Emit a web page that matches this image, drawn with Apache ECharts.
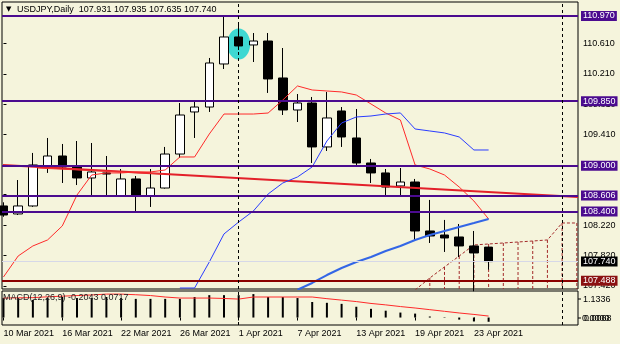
<!DOCTYPE html>
<html><head><meta charset="utf-8">
<script src="https://cdn.jsdelivr.net/npm/echarts@6/dist/echarts.min.js"></script>
<style>html,body{margin:0;padding:0;background:#f5f4dc;}#c{width:620px;height:344px;}</style>
</head><body><div id="c"></div>
<script>
// ---- data ----
const dates = ['10 Mar','11 Mar','12 Mar','15 Mar','16 Mar','17 Mar','18 Mar','19 Mar','22 Mar','23 Mar','24 Mar','25 Mar','26 Mar','29 Mar','30 Mar','31 Mar','1 Apr','2 Apr','5 Apr','6 Apr','7 Apr','8 Apr','9 Apr','12 Apr','13 Apr','14 Apr','15 Apr','16 Apr','19 Apr','20 Apr','21 Apr','22 Apr','23 Apr','26 Apr','27 Apr','28 Apr','29 Apr','30 Apr','3 May','4 May'];
const open  = [108.472,108.367,108.472,108.998,109.129,108.984,108.840,108.906,108.603,108.827,108.603,108.708,109.155,109.708,109.773,110.339,110.694,110.589,110.641,110.155,109.734,109.826,109.248,109.721,109.366,109.037,108.906,108.735,108.787,108.143,108.090,108.064,107.946,107.931];
const close = [108.353,108.472,109.011,109.129,108.984,108.840,108.919,108.892,108.827,108.603,108.708,109.155,109.668,109.773,110.352,110.694,110.576,110.641,110.142,109.734,109.826,109.248,109.629,109.379,109.037,108.906,108.721,108.787,108.143,108.077,108.051,107.946,107.854,107.740];
const low   = [108.330,108.353,108.460,108.906,108.774,108.747,108.603,108.603,108.603,108.406,108.459,108.700,109.103,109.366,109.708,110.273,110.523,110.365,109.958,109.668,109.576,109.037,109.195,109.248,109.011,108.774,108.603,108.603,108.011,107.985,107.867,107.801,107.350,107.635];
const high  = [108.520,108.813,109.169,109.366,109.287,109.326,109.300,109.129,108.958,108.866,108.958,109.248,109.826,109.852,110.418,110.957,110.865,110.746,110.746,110.549,109.944,109.905,109.971,109.773,109.747,109.090,108.958,108.971,108.827,108.551,108.288,108.235,108.143,107.935];
const tenkan = [107.538,107.814,107.946,108.025,108.209,108.616,108.879,108.906,108.906,108.919,108.919,108.945,109.116,109.116,109.418,109.681,109.681,109.681,109.694,109.865,110.050,109.997,109.984,109.971,109.931,109.813,109.694,109.602,109.011,108.958,108.879,108.721,108.537,108.301];
const kijunStart = 12;
const kijun = [107.393,107.393,107.735,108.104,108.261,108.406,108.629,108.774,108.853,108.985,109.326,109.563,109.642,109.655,109.681,109.695,109.484,109.458,109.432,109.379,109.208,109.208];
const maStart = 20;
const maBlue = [107.370,107.459,107.564,107.656,107.735,107.801,107.880,107.946,108.025,108.090,108.143,108.196,108.248,108.301];
const spanStart = 28;
const spanA = [107.367,107.525,107.670,107.814,107.959,107.972,107.985,107.998,108.011,108.025,108.248,108.248];
const spanB = [107.300,107.300,107.280,107.250,107.250,107.250,107.220,107.200,107.200,107.200,107.200,107.200];
const trendIdx = [-0.03, 39.08];
const trendVal = [109.011, 108.590];
const trend2Idx = [2.3, 10.9];
const trend2Val = [108.971, 108.892];
const macdHist = [0.94,0.94,0.85,0.94,0.99,0.94,0.94,0.99,0.94,0.90,0.90,0.90,0.90,0.99,1.08,1.08,1.08,1.13,0.99,0.99,0.94,0.75,0.71,0.66,0.52,0.42,0.33,0.24,0.19,0.05,0.02,-0.10,-0.19,-0.2043];
const macdSignal = [0.94,0.95,0.96,1.00,1.03,1.06,1.09,1.13,1.13,1.10,1.06,0.99,0.94,0.94,0.94,0.92,0.89,0.99,0.99,0.99,0.99,0.99,0.91,0.84,0.77,0.68,0.61,0.53,0.46,0.38,0.30,0.22,0.15,0.0717];
const levels = [110.970, 109.850, 109.000, 108.606, 108.400];
const supportLevel = 107.488;
const bidPrice = 107.740;
const priceTicks = [110.610,110.210,109.810,109.410,109.010,108.620,108.220,107.820,107.420];
const dateTickIdx = [0,4,8,12,16,20,24,28,32];
const dateTickLabels = ['10 Mar 2021','16 Mar 2021','22 Mar 2021','26 Mar 2021','1 Apr 2021','7 Apr 2021','13 Apr 2021','19 Apr 2021','23 Apr 2021'];
const separatorIdx = [16, 38];
const highlightIdx = 16;
const highlightVal = 110.602;
const titleText = 'USDJPY,Daily  107.931 107.935 107.635 107.740';
const macdText = 'MACD(12,26,9) -0.2043 0.0717';
const macdLabels = ['1.1336', '0.0068'];

// ---- chart ----
const FONT = "'Liberation Sans',Arial,sans-serif";
const FS = 9;
const PURPLE = '#4b0b8f';
const xMin = -0.1, xMax = 39.08;
const chart = echarts.init(document.getElementById('c'), null, {renderer: 'canvas'});

const candleData = open.map((o, i) => [i, o, close[i], low[i], high[i]]);
const hatchData = spanA.map((a, k) => [spanStart + k, a, spanB[k]]);

function lvlItem(v, lineColor, bg, width, fmt) {
  return {
    yAxis: v,
    lineStyle: {color: lineColor, width: width, type: 'solid'},
    label: {show: true, position: 'end', distance: 3, formatter: fmt,
      backgroundColor: bg, color: '#fff', fontFamily: FONT, fontSize: FS,
      padding: [1, 2, 0, 2], lineHeight: 9}
  };
}

const option = {
  animation: false,
  backgroundColor: '#f5f4dc',
  grid: [
    {left: 2, top: 2, width: 576, height: 287, show: true, borderColor: '#000', borderWidth: 1, backgroundColor: '#f5f4dc'},
    {left: 2, top: 291, width: 576, height: 34, show: true, borderColor: '#000', borderWidth: 1, backgroundColor: '#f5f4dc'}
  ],
  xAxis: [
    {type: 'value', gridIndex: 0, min: xMin, max: xMax, axisLine: {show: false}, axisTick: {show: false}, axisLabel: {show: false}, splitLine: {show: false}},
    {type: 'value', gridIndex: 1, min: xMin, max: xMax, axisLine: {show: false}, splitLine: {show: false},
      axisTick: {show: true, customValues: dateTickIdx, length: 3, lineStyle: {color: '#000'}},
      axisLabel: {show: true, customValues: dateTickIdx, showMinLabel: true, showMaxLabel: true, hideOverlap: false,
        align: 'left', margin: 4, color: '#000', fontFamily: FONT, fontSize: FS,
        formatter: v => { const k = dateTickIdx.indexOf(Math.round(v)); return k >= 0 ? dateTickLabels[k] : ''; }}}
  ],
  yAxis: [
    {type: 'value', gridIndex: 0, position: 'right', min: 107.38, max: 111.154, scale: true, splitLine: {show: false},
      axisLine: {show: false},
      axisTick: {show: true, customValues: priceTicks, length: 3, lineStyle: {color: '#000'}},
      axisLabel: {show: true, customValues: priceTicks, showMinLabel: true, showMaxLabel: true, margin: 5, color: '#000', fontFamily: FONT, fontSize: FS, formatter: v => v.toFixed(3)}},
    {type: 'value', gridIndex: 1, position: 'right', min: -0.36, max: 1.28, splitLine: {show: false},
      axisLine: {show: false}, axisTick: {show: false}, axisLabel: {show: false}}
  ],
  graphic: [
    {type: 'text', left: 6, top: 6, z: 100, style: {text: '▼', fontSize: 7, fill: '#000', fontFamily: 'DejaVu Sans'}},
    {type: 'text', left: 17, top: 5, z: 100, style: {text: titleText, fontSize: FS, fill: '#000', fontFamily: FONT}},
    {type: 'text', left: 3, top: 293, z: 100, style: {text: macdText, fontSize: FS, fill: '#222', fontFamily: FONT}},
    {type: 'text', left: 583, top: 295, z: 100, style: {text: macdLabels[0], fontSize: FS, fill: '#000', fontFamily: FONT}},
    {type: 'text', left: 582, top: 314, z: 100, style: {text: '0.0000', fontSize: FS, fill: '#000', fontFamily: FONT}},
    {type: 'text', left: 584, top: 314, z: 100, style: {text: macdLabels[1], fontSize: FS, fill: '#000', fontFamily: FONT}},
    {type: 'line', z: 100, shape: {x1: 578, y1: 299, x2: 581, y2: 299}, style: {stroke: '#000', lineWidth: 1}},
    {type: 'line', z: 100, shape: {x1: 578, y1: 318, x2: 581, y2: 318}, style: {stroke: '#000', lineWidth: 1}}
  ],
  series: [
    {type: 'line', xAxisIndex: 0, yAxisIndex: 0, data: [], z: 1, silent: true,
      markLine: {symbol: 'none', silent: true, animation: false,
        data: [lvlItem(bidPrice, '#d6d8e8', '#000', 1, bidPrice.toFixed(3))]}},
    {type: 'line', xAxisIndex: 0, yAxisIndex: 0, data: [], z: 2, silent: true,
      markLine: {symbol: 'none', silent: true, animation: false,
        data: levels.map(v => lvlItem(v, PURPLE, PURPLE, 2, v.toFixed(3)))
          .concat([lvlItem(supportLevel, '#8b0000', '#8b1111', 2, supportLevel.toFixed(3))])}},
    {type: 'line', xAxisIndex: 0, yAxisIndex: 0, data: [], z: 2, silent: true,
      markLine: {symbol: 'none', silent: true, animation: false, label: {show: false},
        lineStyle: {color: '#000', width: 1, type: [3, 3]},
        data: separatorIdx.map(v => ({xAxis: v}))}},
    {type: 'line', xAxisIndex: 1, yAxisIndex: 1, data: [], z: 2, silent: true,
      markLine: {symbol: 'none', silent: true, animation: false, label: {show: false},
        lineStyle: {color: '#000', width: 1, type: [3, 3]},
        data: separatorIdx.map(v => ({xAxis: v}))}},
    {type: 'scatter', xAxisIndex: 0, yAxisIndex: 0, z: 2, silent: true,
      data: [[highlightIdx, highlightVal]], symbol: 'circle', symbolSize: [23, 31],
      itemStyle: {color: '#3ed8d2', opacity: 1}},
    {type: 'custom', xAxisIndex: 0, yAxisIndex: 0, z: 2, silent: true, data: hatchData,
      renderItem: function (params, api) {
        const x = api.value(0);
        const p1 = api.coord([x, api.value(1)]);
        const p2 = api.coord([x, api.value(2)]);
        const cs = params.coordSys;
        const top = cs.y, bot = cs.y + cs.height;
        const y1 = Math.max(Math.min(p1[1], p2[1]), top);
        const y2 = Math.min(Math.max(p1[1], p2[1]), bot);
        if (y1 >= y2 || p1[0] > cs.x + cs.width) return null;
        return {type: 'line', shape: {x1: p1[0], y1: y1, x2: p1[0], y2: y2},
          style: {stroke: '#a32a2a', lineWidth: 1, lineDash: [3, 2]}};
      }},
    {type: 'line', xAxisIndex: 0, yAxisIndex: 0, z: 2, silent: true, symbol: 'none',
      data: spanA.map((v, k) => [spanStart + k, v]),
      lineStyle: {color: '#a32a2a', width: 1, type: [3, 2]}},
    {type: 'candlestick', xAxisIndex: 0, yAxisIndex: 0, z: 3, silent: true, barWidth: 9,
      encode: {x: 0, y: [1, 2, 3, 4]}, data: candleData,
      itemStyle: {color: '#ffffff', color0: '#000000', borderColor: '#000000', borderColor0: '#000000', borderWidth: 1}},
    {type: 'line', xAxisIndex: 0, yAxisIndex: 0, z: 4, silent: true, symbol: 'none',
      data: trendIdx.map((x, k) => [x, trendVal[k]]), lineStyle: {color: '#e3202a', width: 2}},
    {type: 'line', xAxisIndex: 0, yAxisIndex: 0, z: 4, silent: true, symbol: 'none',
      data: trend2Idx.map((x, k) => [x, trend2Val[k]]), lineStyle: {color: '#ee3030', width: 1}},
    {type: 'line', xAxisIndex: 0, yAxisIndex: 0, z: 4, silent: true, symbol: 'none',
      data: tenkan.map((v, i) => [i, v]), lineStyle: {color: '#ff2a2a', width: 1}},
    {type: 'line', xAxisIndex: 0, yAxisIndex: 0, z: 4, silent: true, symbol: 'none',
      data: kijun.map((v, k) => [kijunStart + k, v]), lineStyle: {color: '#2a3cff', width: 1}},
    {type: 'line', xAxisIndex: 0, yAxisIndex: 0, z: 4, silent: true, symbol: 'none',
      data: maBlue.map((v, k) => [maStart + k, v]), lineStyle: {color: '#3366e6', width: 2}},
    {type: 'bar', xAxisIndex: 1, yAxisIndex: 1, z: 3, silent: true, barWidth: 2,
      data: macdHist.map((v, i) => [i, v]), itemStyle: {color: '#000'}},
    {type: 'line', xAxisIndex: 1, yAxisIndex: 1, z: 4, silent: true, symbol: 'none',
      data: macdSignal.map((v, i) => [i, v]), lineStyle: {color: '#ff2a2a', width: 1}}
  ]
};
chart.setOption(option);
</script>
</body></html>
